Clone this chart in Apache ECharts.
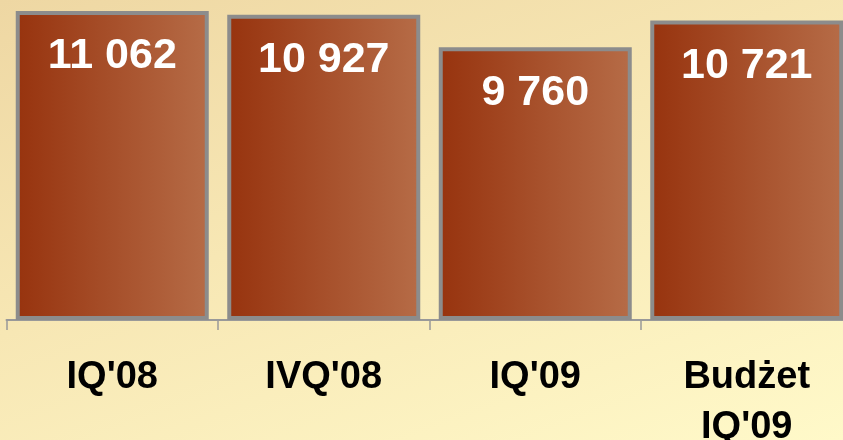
<!DOCTYPE html>
<html>
<head>
<meta charset="utf-8">
<script src="https://cdn.jsdelivr.net/npm/echarts@6/dist/echarts.min.js"></script>
<style>
html,body{margin:0;padding:0;}
#chart{width:843px;height:440px;background:linear-gradient(160deg,#eed7a3 0%,#f7e7b4 45%,#fff9c9 100%);}
</style>
</head>
<body>
<div id="chart"></div>
<script>
var categories = ['IQ\'08', 'IVQ\'08', 'IQ\'09', 'Budżet\nIQ\'09'];
var values = [11062, 10927, 9760, 10721];
var valueLabels = ['11 062', '10 927', '9 760', '10 721'];

var myChart = echarts.init(document.getElementById('chart'));
var barColor = new echarts.graphic.LinearGradient(0, 0, 1, 0, [
  { offset: 0, color: '#97330e' },
  { offset: 1, color: '#b66c47' }
]);
var option = {
  animation: false,
  grid: { left: 6.5, right: -9.5, top: 11, bottom: 120, outerBoundsMode: 'none', containLabel: false },
  xAxis: {
    type: 'category',
    data: categories,
    axisLine: { lineStyle: { color: '#999999', width: 2 } },
    axisTick: { show: true, interval: 0, length: 10, lineStyle: { color: '#999999', width: 1.5 } },
    axisLabel: {
      interval: 0,
      margin: 33,
      color: '#000',
      fontFamily: 'Liberation Sans, Arial, sans-serif',
      fontWeight: 'bold',
      fontSize: 38,
      lineHeight: 50,
      verticalAlign: 'top'
    }
  },
  yAxis: {
    type: 'value',
    min: 0,
    max: 11062,
    show: false,
    splitLine: { show: false }
  },
  series: [{
    type: 'bar',
    data: values,
    barWidth: 193,
    itemStyle: { color: barColor, borderColor: '#8c8c8c', borderWidth: 4 },
    label: {
      show: true,
      position: 'insideTop',
      distance: 24,
      color: '#fff',
      fontFamily: 'Liberation Sans, Arial, sans-serif',
      fontWeight: 'bold',
      fontSize: 43,
      formatter: function (p) { return valueLabels[p.dataIndex]; }
    }
  }]
};
myChart.setOption(option);
window.onresize = function () { myChart.resize(); };
</script>
</body>
</html>
